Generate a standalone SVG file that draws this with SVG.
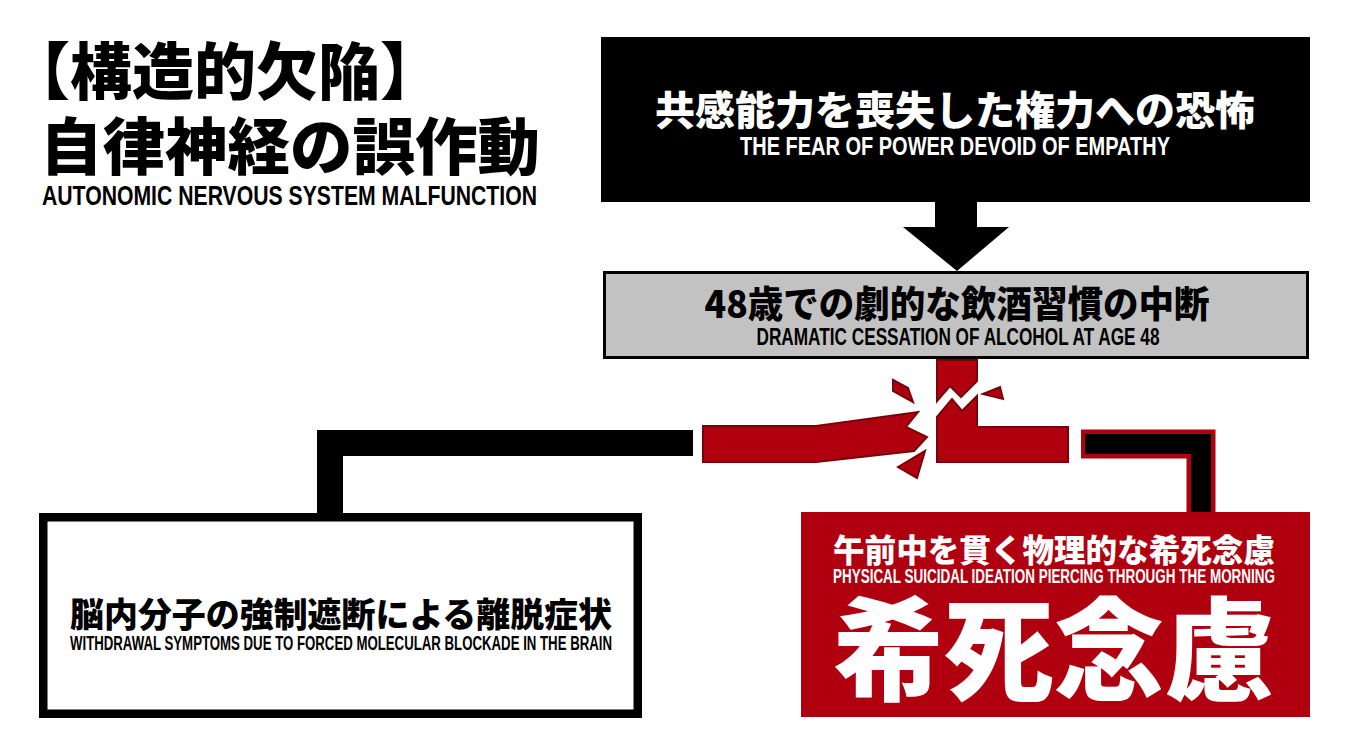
<svg xmlns="http://www.w3.org/2000/svg" width="1350" height="753" viewBox="0 0 1350 753">
<style>
.jp{font-family:"Noto Sans CJK JP","Noto Sans CJK SC",sans-serif;font-weight:900}
.en{font-family:"Liberation Sans",Arial,sans-serif;font-weight:bold}
.red{fill:#b0000f;stroke:#7a0008;stroke-width:2;stroke-linejoin:miter}
</style>
<rect width="1350" height="753" fill="#ffffff"/>
<g id="title">
<text class="jp" x="8" y="95" font-size="62" fill="#000">【構造的欠陥】</text>
<text class="jp" x="40" y="170" font-size="62" fill="#000" textLength="500" lengthAdjust="spacingAndGlyphs">自律神経の誤作動</text>
<text class="en" x="42" y="205" font-size="28" fill="#000" textLength="495" lengthAdjust="spacingAndGlyphs">AUTONOMIC NERVOUS SYSTEM MALFUNCTION</text>
</g>
<g id="connectors">
<polygon points="935,200 977,200 977,227 1009,227 957,271 903,227 935,227" fill="#000"/>
<polyline points="693,443 330,443 330,513" fill="none" stroke="#000" stroke-width="26" stroke-linejoin="miter"/>
<polyline points="1081,444 1201,444 1201,513" fill="none" stroke="#b0000f" stroke-width="29" stroke-linejoin="miter"/>
<polyline points="1085,444 1201,444 1201,513" fill="none" stroke="#000" stroke-width="20" stroke-linejoin="miter"/>
<polygon class="red" points="937,360 977,360 977,381 961,397 950,386 937,401"/>
<polygon class="red" points="937,417 952,399 962,411 977,396 977,427 1068,427 1068,462 937,462"/>
<polygon class="red" points="703,426 816,426 918,412 906,427 927,437 914,451 816,462 703,462"/>
<polygon class="red" points="893,380 908,388 913,402 893,391"/>
<polygon class="red" points="983,394 1000,387 1003,399"/>
<polygon class="red" points="898,467 925,451 917,478"/>
</g>
<g id="node-fear">
<rect x="601" y="37" width="709" height="165" fill="#000"/>
<text class="jp" x="955" y="125" font-size="40" fill="#fff" text-anchor="middle" textLength="600" lengthAdjust="spacingAndGlyphs">共感能力を喪失した権力への恐怖</text>
<text class="en" x="955" y="155" font-size="25" fill="#fff" text-anchor="middle" textLength="430" lengthAdjust="spacingAndGlyphs">THE FEAR OF POWER DEVOID OF EMPATHY</text>
</g>
<g id="node-alcohol">
<rect x="604.5" y="272.5" width="703" height="85" fill="#c2c2c2" stroke="#000" stroke-width="3"/>
<text class="jp" x="957" y="318" font-size="37" fill="#000" text-anchor="middle" textLength="505" lengthAdjust="spacingAndGlyphs">48歳での劇的な飲酒習慣の中断</text>
<text class="en" x="958" y="345" font-size="24" fill="#000" text-anchor="middle" textLength="403" lengthAdjust="spacingAndGlyphs">DRAMATIC CESSATION OF ALCOHOL AT AGE 48</text>
</g>
<g id="node-withdrawal">
<rect x="43.25" y="517.25" width="594.5" height="196.5" fill="#fff" stroke="#000" stroke-width="8.5"/>
<text class="jp" x="341" y="627" font-size="34" fill="#000" text-anchor="middle" textLength="542" lengthAdjust="spacingAndGlyphs">脳内分子の強制遮断による離脱症状</text>
<text class="en" x="341" y="650" font-size="20" fill="#000" text-anchor="middle" textLength="542" lengthAdjust="spacingAndGlyphs">WITHDRAWAL SYMPTOMS DUE TO FORCED MOLECULAR BLOCKADE IN THE BRAIN</text>
</g>
<g id="node-suicidal">
<rect x="801" y="512" width="509" height="205" fill="#b0000f"/>
<text class="jp" x="1054" y="562" font-size="32" fill="#fff" text-anchor="middle" textLength="442" lengthAdjust="spacingAndGlyphs">午前中を貫く物理的な希死念慮</text>
<text class="en" x="1054" y="583" font-size="20" fill="#fff" text-anchor="middle" textLength="442" lengthAdjust="spacingAndGlyphs">PHYSICAL SUICIDAL IDEATION PIERCING THROUGH THE MORNING</text>
<text class="jp" x="1054" y="692" font-size="112" fill="#fff" text-anchor="middle" textLength="442" lengthAdjust="spacingAndGlyphs">希死念慮</text>
</g>
</svg>
